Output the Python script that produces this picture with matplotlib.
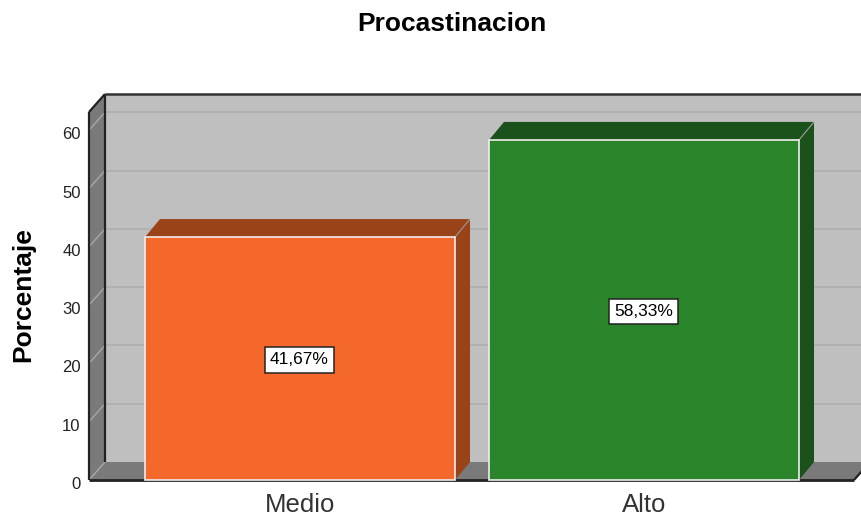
import matplotlib
matplotlib.use("Agg")
import matplotlib.pyplot as plt
from matplotlib.patches import Polygon
from matplotlib.transforms import ScaledTranslation

plt.rcParams["font.family"] = ["Liberation Sans", "DejaVu Sans"]

# data
categories = ["Medio", "Alto"]
values = [41.67, 58.33]
value_labels = ["41,67%", "58,33%"]
y_ticks = [0, 10, 20, 30, 40, 50, 60]

# colours
front_colors = ["#f4692b", "#2a852a"]
dark_colors = ["#9a4318", "#1b521b"]
WALL = "#bfbfbf"
SIDE = "#7a7a7a"
DARK = "#222222"
GRID = "#adadad"
DIAG = "#a8a8a8"

# layout, pixels of the 862x522 picture
W, H = 862, 522
AX_L, AX_R, AX_T, AX_B = 89, 854, 112, 480
PX_PER_CAT = 344.0
PX_PER_UNIT = 5.83

fig = plt.figure(figsize=(W / 100, H / 100), dpi=100, facecolor="white")
ax = fig.add_axes([AX_L / W, 1 - AX_B / H, (AX_R - AX_L) / W, (AX_B - AX_T) / H])
ax.patch.set_visible(False)
x0 = -(300 - AX_L) / PX_PER_CAT
x1 = (AX_R - 300) / PX_PER_CAT
y1 = (AX_B - AX_T) / PX_PER_UNIT
ax.set_xlim(x0, x1)
ax.set_ylim(0, y1)

# 3d offset in data units
dx = 16 / PX_PER_CAT
dy = 18 / PX_PER_UNIT
bar_dx = 15 / PX_PER_CAT


def poly(pts, color, z, lw=0.0, ec="none"):
    ax.add_patch(Polygon(pts, closed=True, facecolor=color, edgecolor=ec,
                         linewidth=lw, zorder=z, clip_on=False))


def line(xs, ys, color, lw, z):
    ax.plot(xs, ys, color=color, lw=lw, zorder=z, clip_on=False,
            solid_capstyle="butt")


# back wall, side wall, floor
poly([(x0 + dx, dy), (x1 + dx, dy), (x1 + dx, y1 + dy), (x0 + dx, y1 + dy)], WALL, 1)
poly([(x0, 0), (x0 + dx, dy), (x0 + dx, y1 + dy), (x0, y1)], SIDE, 2)
poly([(x0, 0), (x1, 0), (x1 + dx, dy), (x0 + dx, dy)], SIDE, 2)

# grid on the wall and its diagonals on the side
for t in y_ticks[1:]:
    line([x0 + dx, x1 + dx], [t + dy, t + dy], GRID, 1.2, 3)
    line([x0, x0 + dx], [t, t + dy], DIAG, 1.0, 3)
line([x0, x0 + dx], [0, dy], DIAG, 1.0, 3)

# frame
line([x0, x0], [0, y1], DARK, 1.6, 4)
line([x0 + dx, x0 + dx], [dy, y1 + dy], DARK, 1.6, 4)
line([x0, x0 + dx], [y1, y1 + dy], DARK, 1.6, 4)
line([x0 + dx, x1 + dx], [y1 + dy, y1 + dy], "#333333", 1.8, 4)
line([x0, x1], [0, 0], DARK, 2.0, 4)
line([x1, x1 + dx], [0, dy], DARK, 1.6, 4)

# bars
bar_w = 310 / PX_PER_CAT
for i, v in enumerate(values):
    l, r = i - bar_w / 2, i + bar_w / 2
    poly([(l, v), (r, v), (r + bar_dx, v + dy), (l + bar_dx, v + dy)], dark_colors[i], 5)
    poly([(r, 0), (r + bar_dx, dy), (r + bar_dx, v + dy), (r, v)], dark_colors[i], 5)
    line([r, r + bar_dx], [v, v + dy], "#9a9a9a", 0.8, 6)
    ax.bar(i, v, width=bar_w, color=front_colors[i], edgecolor="#eeeeee",
           linewidth=1.2, zorder=7, clip_on=False)
    ax.annotate(value_labels[i], (i, v / 2), xytext=(-0.5, -1.0),
                textcoords="offset points", ha="center", va="center",
                fontsize=12.5, color="black", zorder=8,
                bbox=dict(boxstyle="square,pad=0.3", facecolor="white",
                          edgecolor="#222222", linewidth=1.1))

# axes text
ax.set_xticks(range(len(categories)))
ax.set_xticklabels(categories, fontsize=18.5, color="#333333")
ax.set_yticks(y_ticks)
ax.set_yticklabels([str(t) for t in y_ticks], fontsize=12, color="#222222")
ax.tick_params(axis="x", length=0, pad=9)
ax.tick_params(axis="y", length=0, pad=6)
shift = ScaledTranslation(0, -3 / 100, fig.dpi_scale_trans)
for lab in ax.get_yticklabels():
    lab.set_transform(lab.get_transform() + shift)
for s in ax.spines.values():
    s.set_visible(False)

fig.text(452 / W, 1 - 24 / H, "Procastinacion", ha="center", va="center",
         fontsize=19, fontweight="bold", color="black")
fig.text(23 / W, 1 - 295 / H, "Porcentaje", ha="center", va="center",
         rotation=90, fontsize=19, fontweight="bold", color="black")

fig.savefig("out.png", dpi=100, facecolor="white")
plt.close(fig)
